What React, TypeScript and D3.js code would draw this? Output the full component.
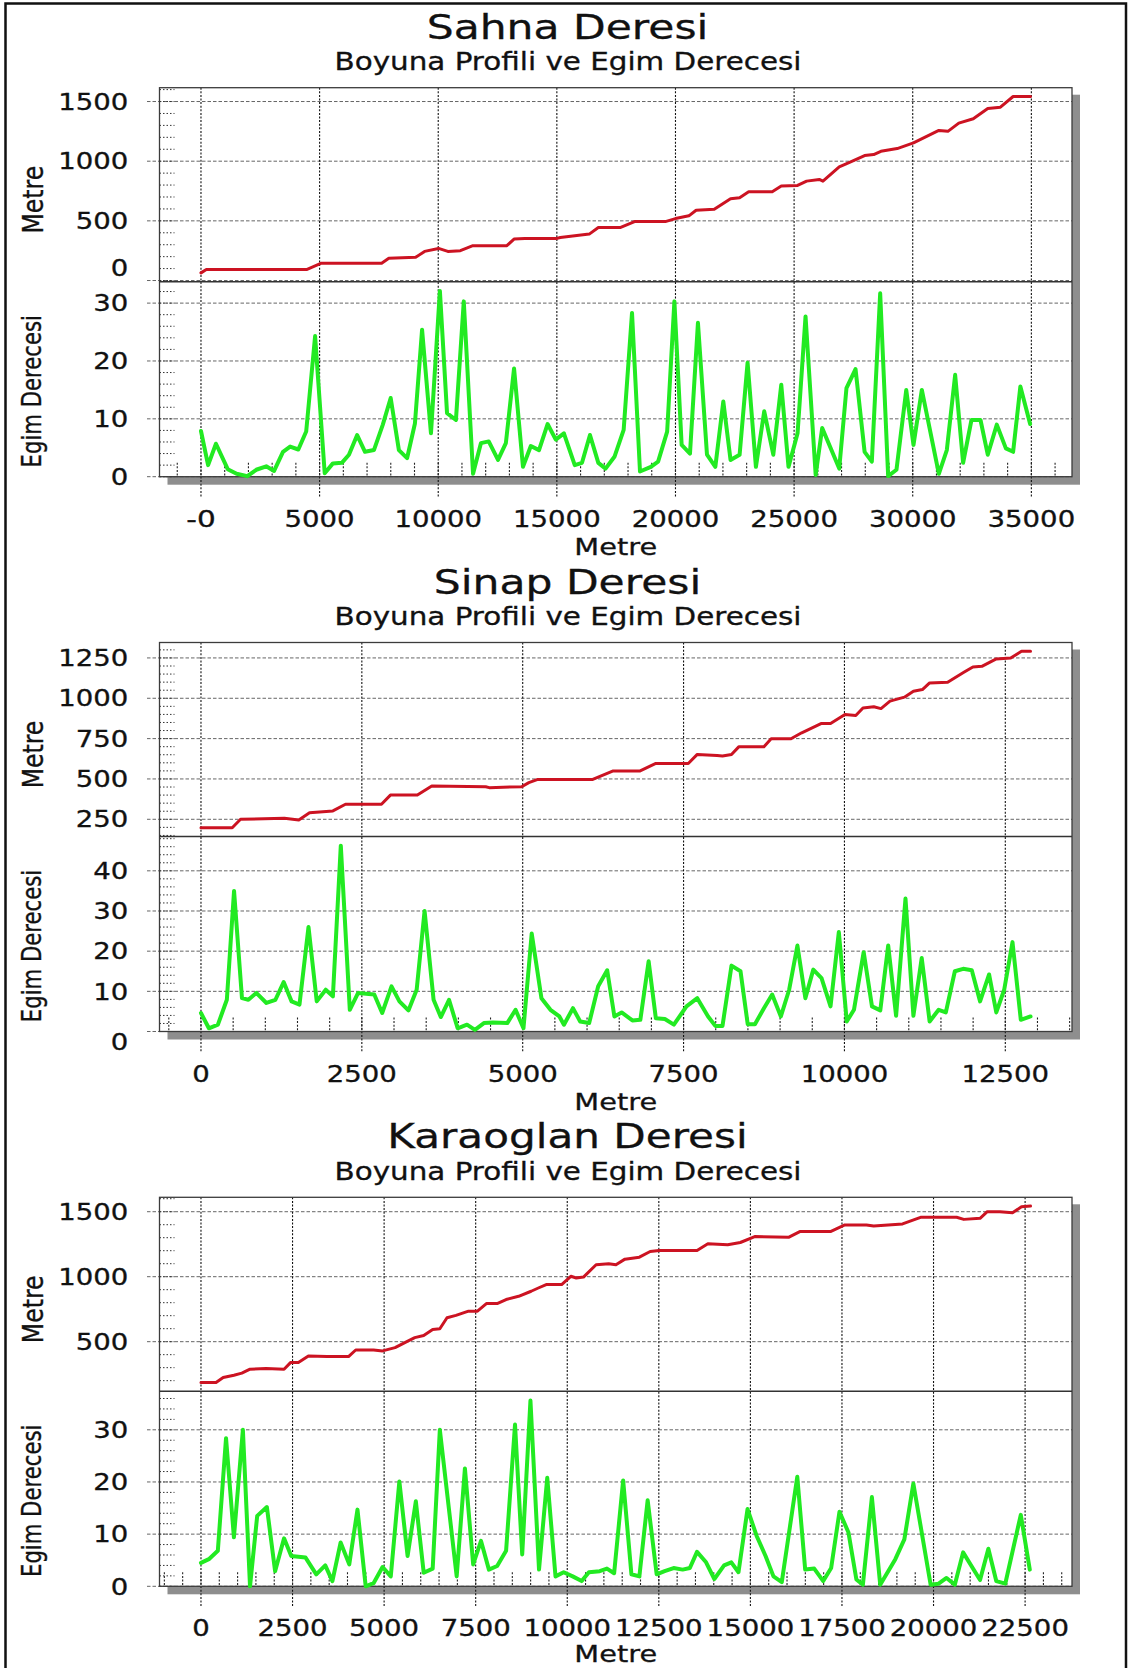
import React from 'react';
import * as d3 from 'd3';

const FONT = "'DejaVu Sans', Verdana, sans-serif";

// ---------------- Sahna Deresi ----------------
const sahnaElevDist = [0, 226, 4449, 5052, 7615, 7917, 9048, 9425, 10013, 10405, 10933, 11461, 12893, 13195, 13647, 15004, 15144, 16366, 16748, 17664, 18275, 19572, 20000, 20565, 20870, 21634, 22321, 22703, 23085, 24077, 24459, 25146, 25528, 26062, 26215, 26902, 27360, 27971, 28353, 28658, 29345, 30032, 31101, 31483, 31941, 32552, 33163, 33697, 34232, 34965];
const sahnaElev = [64, 92, 92, 144, 144, 186, 194, 244, 269, 244, 250, 292, 292, 347, 353, 353, 361, 389, 444, 444, 494, 494, 519, 542, 589, 597, 686, 694, 744, 744, 792, 797, 833, 847, 833, 953, 992, 1047, 1056, 1083, 1106, 1153, 1258, 1250, 1319, 1356, 1442, 1453, 1542, 1542];
const sahnaSlopeDist = [0, 300, 631, 1127, 1503, 1954, 2330, 2750, 3081, 3457, 3758, 4103, 4434, 4810, 5215, 5561, 5937, 6237, 6583, 6914, 7290, 7665, 7996, 8342, 8687, 9018, 9319, 9694, 10070, 10371, 10746, 11077, 11468, 11799, 12129, 12520, 12851, 13196, 13572, 13903, 14248, 14609, 14955, 15297, 15755, 16060, 16396, 16748, 17053, 17435, 17816, 18168, 18504, 18962, 19267, 19649, 19954, 20260, 20611, 20947, 21328, 21680, 22016, 22321, 22703, 23039, 23390, 23741, 24123, 24459, 24764, 25146, 25482, 25909, 26184, 26902, 27207, 27589, 27971, 28276, 28628, 28964, 29315, 29727, 30032, 30384, 31101, 31437, 31788, 32124, 32475, 32857, 33163, 33544, 33926, 34232, 34537, 34949];
const sahnaSlope = [7.9, 2.0, 5.7, 1.3, 0.5, 0.1, 1.2, 1.8, 1.0, 4.3, 5.2, 4.7, 7.8, 24.3, 0.6, 2.3, 2.4, 3.8, 7.2, 4.3, 4.6, 9.0, 13.6, 4.6, 3.2, 9.2, 25.4, 7.5, 32.1, 11.0, 9.8, 30.3, 0.5, 5.8, 6.1, 2.9, 5.8, 18.7, 1.7, 5.3, 4.6, 9.1, 6.4, 7.5, 2.0, 2.4, 7.2, 2.4, 1.4, 3.5, 8.1, 28.3, 0.9, 1.7, 2.6, 7.8, 30.3, 5.5, 4.0, 26.6, 3.8, 1.7, 13.0, 2.9, 3.8, 19.7, 1.7, 11.3, 3.8, 15.9, 1.7, 7.5, 27.7, 0.3, 8.4, 1.4, 15.3, 18.6, 4.3, 2.6, 31.7, 0.1, 1.2, 15.0, 5.5, 15.0, 0.5, 4.6, 17.6, 2.4, 9.8, 9.8, 3.8, 9.0, 4.9, 4.3, 15.6, 9.1];
const sahnaXTicks = [0, 5000, 10000, 15000, 20000, 25000, 30000, 35000];
const sahnaXLabels = ['-0', '5000', '10000', '15000', '20000', '25000', '30000', '35000'];
const sahnaElevTicks = [0, 500, 1000, 1500];
const sahnaSlopeTicks = [0, 10, 20, 30];

// ---------------- Sinap Deresi ----------------
const sinapElevDist = [0, 486, 615, 1296, 1520, 1687, 2050, 2246, 2805, 2944, 3363, 3587, 4425, 4481, 4984, 5095, 5235, 5641, 6089, 6397, 6817, 7069, 7573, 7713, 8021, 8105, 8245, 8357, 8749, 8861, 9169, 9336, 9644, 9784, 10008, 10176, 10288, 10456, 10568, 10708, 10932, 11072, 11212, 11324, 11604, 11856, 11996, 12136, 12360, 12584, 12752, 12892];
const sinapElev = [198, 198, 250, 256, 246, 291, 302, 343, 343, 400, 400, 456, 452, 446, 452, 477, 497, 497, 497, 549, 549, 596, 596, 652, 646, 642, 652, 699, 699, 749, 749, 786, 844, 844, 899, 893, 940, 947, 936, 982, 1007, 1044, 1054, 1095, 1099, 1161, 1194, 1198, 1244, 1250, 1291, 1291];
const sinapSlopeDist = [0, 123, 263, 402, 514, 637, 737, 860, 1017, 1157, 1285, 1408, 1531, 1671, 1799, 1939, 2050, 2173, 2313, 2442, 2693, 2816, 2961, 3084, 3224, 3352, 3475, 3615, 3727, 3855, 3989, 4134, 4257, 4397, 4537, 4760, 4889, 5012, 5140, 5291, 5431, 5570, 5641, 5781, 5893, 6033, 6173, 6313, 6425, 6537, 6705, 6828, 6957, 7069, 7209, 7349, 7545, 7713, 7881, 7993, 8105, 8245, 8385, 8497, 8609, 8749, 8877, 9012, 9141, 9269, 9393, 9516, 9644, 9784, 9913, 10036, 10148, 10299, 10428, 10557, 10680, 10803, 10949, 11072, 11201, 11324, 11464, 11576, 11716, 11845, 11979, 12108, 12248, 12360, 12483, 12612, 12741, 12892];
const sinapSlope = [4.6, 0.8, 1.7, 7.9, 35.0, 8.3, 7.9, 9.6, 7.1, 7.9, 12.3, 7.5, 6.7, 26.0, 7.5, 10.4, 8.75, 46.25, 5.4, 9.6, 9.2, 4.6, 11.25, 7.5, 5.25, 10.4, 30.0, 7.9, 3.6, 7.9, 0.8, 1.7, 0.4, 2.1, 2.25, 2.1, 5.4, 0.8, 24.4, 8.3, 5.4, 3.75, 1.7, 5.8, 2.5, 2.1, 11.25, 15.25, 3.75, 4.75, 2.75, 2.9, 17.5, 3.3, 3.1, 1.7, 6.25, 8.3, 3.75, 1.4, 1.4, 16.4, 15.0, 1.8, 1.8, 5.8, 9.2, 3.75, 10.4, 21.4, 8.3, 15.4, 13.3, 6.25, 24.75, 2.5, 5.4, 19.75, 6.25, 5.25, 21.4, 3.9, 33.1, 3.9, 18.3, 2.5, 5.4, 4.75, 15.0, 15.6, 15.25, 7.5, 14.2, 4.75, 10.4, 22.25, 2.9, 3.75];
const sinapXTicks = [0, 2500, 5000, 7500, 10000, 12500];
const sinapXLabels = ['0', '2500', '5000', '7500', '10000', '12500'];
const sinapElevTicks = [250, 500, 750, 1000, 1250];
const sinapSlopeTicks = [0, 10, 20, 30, 40];

// ---------------- Karaoglan Deresi ----------------
const karaElevDist = [0, 411, 606, 899, 1115, 1339, 1779, 2268, 2444, 2659, 2933, 3441, 4028, 4224, 4712, 4957, 5299, 5592, 5837, 6081, 6326, 6521, 6717, 6961, 7304, 7548, 7792, 8085, 8330, 8672, 9014, 9210, 9425, 9846, 10098, 10246, 10443, 10787, 11132, 11329, 11575, 11969, 12264, 12510, 13543, 13839, 14380, 14725, 15118, 16053, 16349, 17185, 17579, 18169, 18366, 19154, 19646, 20630, 20827, 21270, 21467, 21812, 22156, 22402, 22648];
const karaElev = [186, 186, 224, 242, 258, 288, 293, 288, 339, 339, 390, 385, 385, 436, 436, 429, 454, 497, 531, 548, 594, 599, 684, 702, 735, 735, 793, 793, 824, 849, 888, 913, 939, 939, 1003, 990, 997, 1092, 1099, 1092, 1135, 1150, 1194, 1202, 1202, 1253, 1245, 1263, 1309, 1304, 1347, 1347, 1398, 1398, 1390, 1406, 1457, 1457, 1441, 1449, 1500, 1500, 1492, 1538, 1543];
const karaSlopeDist = [0, 215, 460, 684, 899, 1144, 1339, 1535, 1799, 2024, 2268, 2464, 2855, 3148, 3393, 3588, 3813, 4048, 4273, 4497, 4712, 4957, 5182, 5416, 5641, 5866, 6081, 6326, 6521, 6981, 7206, 7431, 7646, 7861, 8086, 8330, 8574, 8770, 8995, 9229, 9454, 9679, 9902, 10148, 10394, 10591, 10886, 11083, 11280, 11526, 11752, 11969, 12195, 12441, 12658, 12904, 13150, 13347, 13543, 13790, 14016, 14282, 14479, 14675, 14922, 15168, 15414, 15630, 15857, 16280, 16496, 16743, 16989, 17205, 17432, 17678, 17894, 18071, 18317, 18544, 18957, 19203, 19449, 19921, 20138, 20355, 20581, 20807, 21270, 21497, 21713, 21959, 22382, 22628];
const karaSlope = [4.5, 5.2, 6.8, 28.4, 9.4, 30.0, 0, 13.5, 15.2, 2.9, 9.2, 5.8, 5.5, 2.3, 4.0, 1.0, 8.4, 4.2, 14.7, 0, 0.6, 3.7, 1.9, 20.1, 5.8, 16.3, 2.6, 3.4, 30.0, 1.9, 22.6, 4.2, 8.7, 3.2, 3.9, 6.8, 31.0, 6.1, 35.6, 3.2, 20.8, 1.9, 2.7, 1.9, 1.0, 2.7, 2.9, 3.4, 2.5, 20.3, 2.3, 1.9, 16.5, 2.3, 2.9, 3.5, 3.2, 3.5, 6.6, 4.6, 1.4, 4.0, 4.6, 2.7, 14.8, 9.7, 5.8, 1.9, 0.8, 21.0, 3.2, 3.4, 1.0, 3.5, 14.3, 10.3, 1.3, 0.3, 17.1, 0.3, 5.2, 9.0, 19.7, 0.3, 0.5, 1.6, 0.3, 6.5, 1.2, 7.2, 1.0, 0.5, 13.7, 3.2];
const karaXTicks = [0, 2500, 5000, 7500, 10000, 12500, 15000, 17500, 20000, 22500];
const karaXLabels = ['0', '2500', '5000', '7500', '10000', '12500', '15000', '17500', '20000', '22500'];
const karaElevTicks = [500, 1000, 1500];
const karaSlopeTicks = [0, 10, 20, 30];

const SUBTITLE = 'Boyuna Profili ve Egim Derecesi';
const Y_TITLE_TOP = 'Metre';
const Y_TITLE_BOTTOM = 'Egim Derecesi';
const X_TITLE = 'Metre';

const charts = [
  {
    title: 'Sahna Deresi', elevDist: sahnaElevDist, elev: sahnaElev, slopeDist: sahnaSlopeDist, slope: sahnaSlope,
    xTicks: sahnaXTicks, xLabels: sahnaXLabels, xMinor: 1000, elevTicks: sahnaElevTicks, elevMinor: 100,
    slopeTicks: sahnaSlopeTicks, slopeMinor: 2, elevNudge: { 0: -13 } as Record<number, number>, slopeNudge: {} as Record<number, number>,
  },
  {
    title: 'Sinap Deresi', elevDist: sinapElevDist, elev: sinapElev, slopeDist: sinapSlopeDist, slope: sinapSlope,
    xTicks: sinapXTicks, xLabels: sinapXLabels, xMinor: 500, elevTicks: sinapElevTicks, elevMinor: 50,
    slopeTicks: sinapSlopeTicks, slopeMinor: 2, elevNudge: {} as Record<number, number>, slopeNudge: { 0: 10 } as Record<number, number>,
  },
  {
    title: 'Karaoglan Deresi', elevDist: karaElevDist, elev: karaElev, slopeDist: karaSlopeDist, slope: karaSlope,
    xTicks: karaXTicks, xLabels: karaXLabels, xMinor: 500, elevTicks: karaElevTicks, elevMinor: 100,
    slopeTicks: karaSlopeTicks, slopeMinor: 2, elevNudge: {} as Record<number, number>, slopeNudge: {} as Record<number, number>,
  },
];

// Verdana advance widths (em) – the reference was drawn in Verdana, which is not installed.
const VERDANA: Record<string, number> = {
  ' ': 0.352, '-': 0.431,
  '0': 0.636, '1': 0.636, '2': 0.636, '3': 0.636, '4': 0.636, '5': 0.636, '6': 0.636, '7': 0.636, '8': 0.636, '9': 0.636,
  B: 0.688, D: 0.770, E: 0.633, K: 0.656, M: 0.843, P: 0.603, S: 0.684,
  a: 0.601, c: 0.521, e: 0.596, f: 0.352, g: 0.623, h: 0.633, i: 0.274, l: 0.274, m: 0.973, n: 0.633,
  o: 0.607, p: 0.623, r: 0.427, s: 0.521, t: 0.394, u: 0.633, v: 0.591, y: 0.591,
};
const emWidth = (s: string) => Array.from(s).reduce((acc, ch) => acc + (VERDANA[ch] ?? 0.6), 0);

const W = 1129;
const H = 1668;
const LEFT = 159.5;
const RIGHT = 1072;
const TOPS = [87.7, 642.5, 1197.3];
const UPPER_H = 194;
const LOWER_H = 195;
const SX = 1.224;

type STextProps = {
  x: number; y: number; fs: number; anchor?: string; rotate?: boolean; children: string;
};
function SText({ x, y, fs, anchor = 'middle', rotate = false, children }: STextProps) {
  return (
    <text
      transform={`translate(${x},${y}) scale(${SX},1)${rotate ? ' rotate(-90)' : ''}`}
      fontSize={fs}
      fontFamily={FONT}
      textAnchor={anchor}
      textLength={emWidth(children) * fs}
      lengthAdjust="spacingAndGlyphs"
      fill="#111"
      stroke="#111"
      strokeWidth={0.3}
    >
      {children}
    </text>
  );
}

function Chart({ spec, top }: { spec: typeof charts[number]; top: number }) {
  const sepY = top + UPPER_H;
  const bottom = sepY + LOWER_H;
  const maxX = Math.max(d3.max(spec.elevDist) as number, d3.max(spec.slopeDist) as number);
  const x = d3.scaleLinear().domain([-0.05 * maxX, 1.05 * maxX]).range([LEFT, RIGHT]);
  const [eMin, eMax] = d3.extent(spec.elev) as [number, number];
  const eR = eMax - eMin;
  const yE = d3.scaleLinear().domain([eMin - 0.05 * eR, eMax + 0.05 * eR]).range([sepY, top]);
  const [sMin, sMax] = d3.extent(spec.slope) as [number, number];
  const yS = d3.scaleLinear().domain([0, sMax + 0.05 * (sMax - sMin)]).range([bottom, sepY]);

  const elevLine = d3.line<number>().x((_, i) => x(spec.elevDist[i])).y((d) => yE(d));
  const slopeLine = d3.line<number>().x((_, i) => x(spec.slopeDist[i])).y((d) => yS(d));

  const [xd0, xd1] = x.domain();
  const xMinors = d3.range(Math.ceil(xd0 / spec.xMinor) * spec.xMinor, xd1 + 1e-6, spec.xMinor);
  const [ed0, ed1] = yE.domain();
  const eMinors = d3.range(Math.ceil(ed0 / spec.elevMinor) * spec.elevMinor, ed1 + 1e-6, spec.elevMinor);
  const [sd0, sd1] = yS.domain();
  const sMinors = d3.range(Math.ceil(sd0 / spec.slopeMinor) * spec.slopeMinor, sd1 + 1e-6, spec.slopeMinor);

  const plotW = RIGHT - LEFT;
  const plotH = bottom - top;
  const tickFs = 22.5;
  const capHalf = (0.729 * tickFs) / 2;
  const xMid = (LEFT + RIGHT) / 2;
  const xTitleY = Math.min(bottom + 78, H - 6);

  return (
    <g>
      {/* titles */}
      <SText x={567.5} y={top - 49} fs={34.4}>{spec.title}</SText>
      <SText x={568} y={top - 17.4} fs={23.9}>{SUBTITLE}</SText>

      {/* shadow and plot background */}
      <rect x={LEFT + 8} y={top + 7} width={plotW} height={plotH + 1} fill="#8e8e8e" />
      <rect x={LEFT} y={top} width={plotW} height={plotH} fill="#fff" />

      {/* horizontal gridlines */}
      {spec.elevTicks.map((v) => (
        <line key={'ge' + v} x1={147} x2={RIGHT} y1={yE(v)} y2={yE(v)} stroke="#666" strokeWidth={1} strokeDasharray="3.5,2" />
      ))}
      {spec.slopeTicks.map((v) => (
        <line key={'gs' + v} x1={147} x2={RIGHT} y1={yS(v)} y2={yS(v)} stroke="#666" strokeWidth={1} strokeDasharray="3.5,2" />
      ))}

      {/* vertical gridlines */}
      {spec.xTicks.map((v) => (
        <line key={'gx' + v} x1={x(v)} x2={x(v)} y1={top} y2={bottom + 20} stroke="#111" strokeWidth={1.1} strokeDasharray="2,1.6" />
      ))}

      {/* minor ticks */}
      {eMinors.map((v) => (
        <line key={'me' + v} x1={LEFT} x2={LEFT + 15} y1={yE(v)} y2={yE(v)} stroke="#333" strokeWidth={1} strokeDasharray="1.5,2" />
      ))}
      {sMinors.map((v) => (
        <line key={'ms' + v} x1={LEFT} x2={LEFT + 15} y1={yS(v)} y2={yS(v)} stroke="#333" strokeWidth={1} strokeDasharray="1.5,2" />
      ))}
      {xMinors.map((v) => (
        <line key={'mx' + v} x1={x(v)} x2={x(v)} y1={bottom - 14} y2={bottom} stroke="#222" strokeWidth={1.1} strokeDasharray="2,1.6" />
      ))}

      {/* borders */}
      <rect x={LEFT} y={top} width={plotW} height={plotH} fill="none" stroke="#3c3c3c" strokeWidth={1.3} />
      <line x1={LEFT} x2={RIGHT} y1={sepY} y2={sepY} stroke="#333" strokeWidth={1.5} />

      {/* data lines */}
      <path d={elevLine(spec.elev) ?? ''} fill="none" stroke="#cc1322" strokeWidth={3} strokeLinejoin="round" strokeLinecap="round" />
      <path d={slopeLine(spec.slope) ?? ''} fill="none" stroke="#22ea22" strokeWidth={4} strokeLinejoin="round" strokeLinecap="round" />

      {/* y tick labels */}
      {spec.elevTicks.map((v) => (
        <SText key={'le' + v} x={128.3} y={yE(v) + capHalf + (spec.elevNudge[v] ?? 0)} fs={tickFs} anchor="end">{String(v)}</SText>
      ))}
      {spec.slopeTicks.map((v) => (
        <SText key={'ls' + v} x={128.3} y={yS(v) + capHalf + (spec.slopeNudge[v] ?? 0)} fs={tickFs} anchor="end">{String(v)}</SText>
      ))}

      {/* x tick labels */}
      {spec.xTicks.map((v, i) => (
        <SText key={'lx' + v} x={x(v)} y={bottom + 50} fs={tickFs}>{spec.xLabels[i]}</SText>
      ))}

      {/* axis titles */}
      <SText x={42.7} y={(top + sepY) / 2 + 15} fs={23.7} rotate>{Y_TITLE_TOP}</SText>
      <SText x={41.3} y={(sepY + bottom) / 2 + 12} fs={21.3} rotate>{Y_TITLE_BOTTOM}</SText>
      <SText x={xMid} y={xTitleY} fs={23.7}>{X_TITLE}</SText>
    </g>
  );
}

export default function App() {
  return (
    <svg
      width={W}
      height={H}
      viewBox={`0 0 ${W} ${H}`}
      style={{ position: 'absolute', left: 0, top: 0, background: '#fff' }}
    >
      <rect x={0} y={0} width={W} height={H} fill="#fff" />
      {charts.map((c, i) => (
        <Chart key={c.title} spec={c} top={TOPS[i]} />
      ))}
      <path d="M5.5,1668 V3.5 H1126 V1668" fill="none" stroke="#111" strokeWidth={2.5} />
    </svg>
  );
}
